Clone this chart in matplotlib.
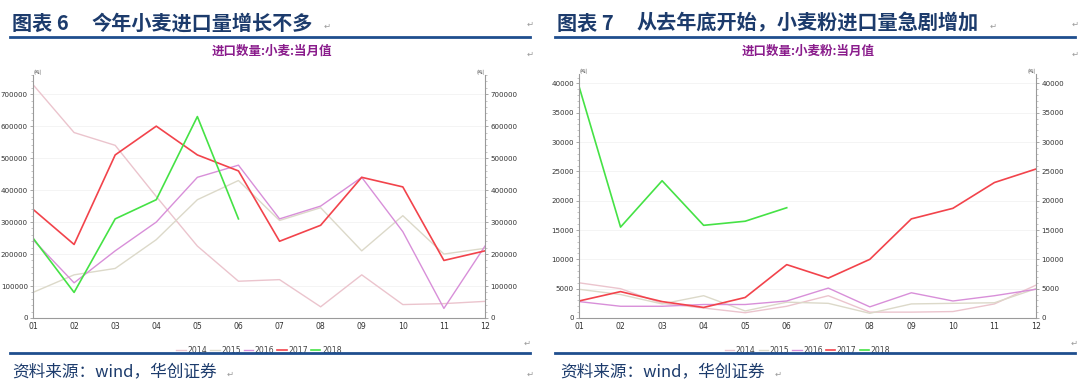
import numpy as np
import matplotlib
matplotlib.use("Agg")
import matplotlib.pyplot as plt
from matplotlib.ticker import MultipleLocator

plt.rcParams['font.family'] = ['Noto Sans CJK SC', 'DejaVu Sans']

# ---- data ----
months = ["01", "02", "03", "04", "05", "06", "07", "08", "09", "10", "11", "12"]
years = ["2014", "2015", "2016", "2017", "2018"]

# wheat imports, tonnes
wheat_2014 = [730000, 580000, 540000, 380000, 225000, 115000, 120000, 35000, 135000, 42000, 45000, 52000]
wheat_2015 = [80000, 135000, 155000, 245000, 370000, 430000, 305000, 345000, 210000, 320000, 200000, 218000]
wheat_2016 = [245000, 110000, 210000, 300000, 440000, 478000, 310000, 350000, 440000, 270000, 30000, 225000]
wheat_2017 = [340000, 230000, 510000, 600000, 510000, 460000, 240000, 290000, 440000, 410000, 180000, 210000]
wheat_2018 = [250000, 80000, 310000, 370000, 630000, 310000]

# wheat flour imports, tonnes
flour_2014 = [6000, 5000, 2500, 1700, 900, 2000, 3800, 1000, 1000, 1100, 2400, 5600]
flour_2015 = [4900, 4000, 2400, 3800, 1200, 2700, 2500, 800, 2400, 2500, 2600, 5000]
flour_2016 = [2800, 2000, 2000, 2300, 2300, 2900, 5100, 1900, 4300, 2900, 3800, 4900]
flour_2017 = [2900, 4500, 2800, 1800, 3500, 9100, 6800, 10000, 16900, 18700, 23100, 25400]
flour_2018 = [39500, 15500, 23400, 15800, 16500, 18800]

colors = ["#ebc4cd", "#dcd9c9", "#d88fd9", "#f2434b", "#45e245"]
widths = [1.0, 1.0, 1.0, 1.2, 1.2]

W, H = 1080, 386
fig = plt.figure(figsize=(W / 100, H / 100), dpi=100)
fig.patch.set_facecolor("white")


def px_axes(left, top, right, bottom):
    return fig.add_axes([left / W, 1 - bottom / H, (right - left) / W, (bottom - top) / H])


def draw_panel(box, series, ymax, ystep, title, cx):
    ax = px_axes(*box)
    x = np.arange(len(months))
    for name, vals, c, lw in zip(years, series, colors, widths):
        ax.plot(x[:len(vals)], vals, color=c, lw=lw, label=name)
    ax.set_xlim(0, len(months) - 1)
    ax.set_ylim(0, ymax)
    ax.set_xticks(x)
    ax.set_xticklabels(months)
    ax.yaxis.set_major_locator(MultipleLocator(ystep))
    ax.yaxis.set_minor_locator(MultipleLocator(ystep / 5))
    ax.grid(axis="y", color="#f2f2f2", lw=0.6)
    ax.set_axisbelow(True)
    for s in ["left", "right", "bottom"]:
        ax.spines[s].set_color("#9a9a9a")
        ax.spines[s].set_linewidth(0.8)
    ax.spines["top"].set_visible(False)
    ax.tick_params(axis="both", labelsize=5.6, colors="#9a9a9a", labelcolor="#333333",
                   length=2.5, width=0.6, pad=1.5, labelfontfamily="DejaVu Sans")
    ax.tick_params(axis="y", labelsize=5.1, pad=1.2)
    ax.tick_params(axis="y", which="minor", length=1.5, width=0.4, colors="#9a9a9a",
                   right=True)
    ax.tick_params(axis="y", right=True, labelright=True)
    ax.tick_params(axis="x", length=0, pad=3)
    ax.text(0.0, 1.0, "(吨)", transform=ax.transAxes, fontsize=3.5, color="#555555",
            ha="left", va="bottom")
    ax.text(1.0, 1.0, "(吨)", transform=ax.transAxes, fontsize=3.5, color="#555555",
            ha="right", va="bottom")
    fig.text(cx / W, 1 - 51 / H, title, fontsize=9, fontweight="bold",
             color="#8a1c8c", ha="center", va="center")
    leg = ax.legend(loc="upper center", bbox_to_anchor=(0.5, -0.085), ncol=5, frameon=False,
                    prop={"family": "DejaVu Sans", "size": 5.6}, handlelength=1.2,
                    handletextpad=0.2, columnspacing=0.4)
    for t in leg.get_texts():
        t.set_color("#444444")
    return ax


draw_panel((33, 75, 485, 318),
           [wheat_2014, wheat_2015, wheat_2016, wheat_2017, wheat_2018],
           760000, 100000, "进口数量:小麦:当月值", 272)
draw_panel((579, 74, 1036, 318),
           [flour_2014, flour_2015, flour_2016, flour_2017, flour_2018],
           41600, 5000, "进口数量:小麦粉:当月值", 808)

navy = "#1c3b6c"
rule = "#1f4e8e"
mark = "#9a9a9a"
# headings
fig.text(12 / W, 1 - 23 / H, "图表 6", fontsize=14.5, fontweight="bold",
         color=navy, ha="left", va="center")
fig.text(92 / W, 1 - 23 / H, "今年小麦进口量增长不多", fontsize=14.5,
         fontweight="bold", color=navy, ha="left", va="center")
fig.text(557 / W, 1 - 23 / H, "图表 7", fontsize=14.5, fontweight="bold",
         color=navy, ha="left", va="center")
fig.text(637 / W, 1 - 23 / H, "从去年底开始，小麦粉进口量急剧增加", fontsize=14.5,
         fontweight="bold", color=navy, ha="left", va="center")
for x0, x1 in [(10, 530), (555, 1075)]:
    for yy in (37, 353):
        fig.add_artist(plt.Line2D([x0 / W, x1 / W], [1 - yy / H, 1 - yy / H],
                                  color=rule, lw=2))
# source
for x0 in (12, 560):
    fig.text(x0 / W, 1 - 372 / H, "资料来源：wind，华创证券", fontsize=12, style="italic",
             color=navy, ha="left", va="center")

# paragraph marks
for (mx, my) in [(327, 26), (530, 24), (530, 54), (527, 343), (230, 374), (530, 374),
                 (993, 26), (1075, 24), (1075, 54), (1074, 343), (778, 374)]:
    fig.text(mx / W, 1 - my / H, "↵", fontsize=6, color=mark, family="DejaVu Sans",
             ha="center", va="center")

fig.savefig("out.png", dpi=100, facecolor="white")
